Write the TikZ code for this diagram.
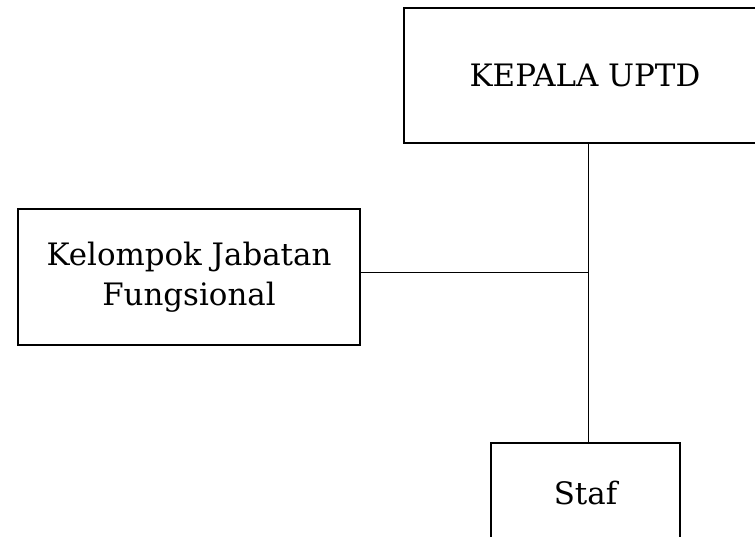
\documentclass[tikz,border=0pt]{standalone}
\usepackage{fontspec}
\setmainfont{DejaVu Serif}
\begin{document}
\begin{tikzpicture}[x=1bp, y=1bp, line join=miter, font=\fontsize{31}{40}\selectfont,
    unitbox/.style={draw, line width=2bp, inner sep=0pt, align=center},
    link/.style={line width=1bp}]
    \clip (0,0) rectangle (755,537);
    \fill[white] (0,0) rectangle (755,537);
    \node[unitbox, minimum width=362bp, minimum height=135bp] (kepala) at (585,461.5) {KEPALA UPTD};
    \node[unitbox, minimum width=342bp, minimum height=136bp] (kjf) at (189,260) {Kelompok Jabatan\\Fungsional};
    \node[unitbox, minimum width=189bp, minimum height=100bp] (staf) at (585.5,44) {Staf};
    \coordinate (junc) at (588,264);
    \draw[link] (kepala.south -| junc) -- (staf.north -| junc);
    \draw[link] (kjf.east |- junc) -- (junc);
\end{tikzpicture}
\end{document}
